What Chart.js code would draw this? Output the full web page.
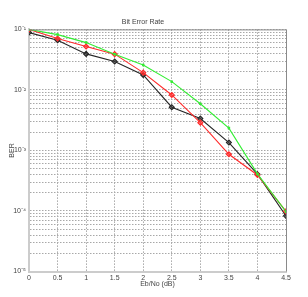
<!DOCTYPE html>
<html><head><meta charset="utf-8">
<script src="https://cdn.jsdelivr.net/npm/chart.js@4"></script>
<style>html,body{margin:0;padding:0;background:#fff}#w{width:308px;height:297px}</style>
</head><body><div id="w"><canvas id="c"></canvas></div>
<script>
const ebno = [0, 0.5, 1, 1.5, 2, 2.5, 3, 3.5, 4, 4.5];
const berGreen = [0.1, 0.082, 0.0605, 0.039, 0.0259, 0.0137, 0.0059, 0.00234, 0.00041, 0.0000975];
const berRed   = [0.1, 0.0705, 0.052, 0.039, 0.0193, 0.00826, 0.00288, 0.000865, 0.000394, 0.0000985];
const berBlack = [0.0886, 0.0663, 0.0394, 0.0294, 0.0177, 0.00518, 0.00336, 0.00135, 0.000405, 0.000083];
const xTickValues = [0, 0.5, 1, 1.5, 2, 2.5, 3, 3.5, 4, 4.5];
const xTickLabels = ['0', '0.5', '1', '1.5', '2', '2.5', '3', '3.5', '4', '4.5'];
const yDecades = [-5, -4, -3, -2, -1];
const yTickLabels = ['10\u207B\u2075', '10\u207B\u2074', '10\u207B\u00B3', '10\u207B\u00B2', '10\u207B\u00B9'];
const titleText = 'Bit Error Rate';
const xTitle = 'Eb/No (dB)';
const yTitle = 'BER';

const FONT = {family: '"Liberation Sans", Arial, sans-serif', size: 7, weight: 'normal'};
const mk = (arr) => arr.map((v, i) => ({x: ebno[i], y: v}));

const frame = {
  id: 'frame',
  afterDraw(chart) {
    const a = chart.chartArea, ctx = chart.ctx;
    ctx.save();
    ctx.strokeStyle = '#8a8a8a';
    ctx.lineWidth = 1;
    ctx.beginPath();
    ctx.moveTo(a.left, a.top + 0.5);
    ctx.lineTo(a.right + 0.5, a.top + 0.5);
    ctx.lineTo(a.right + 0.5, a.bottom);
    ctx.stroke();
    ctx.restore();
  }
};

new Chart(document.getElementById('c'), {
  type: 'line',
  data: {
    datasets: [
      {label: 'g', data: mk(berGreen), borderColor: '#33ee33', backgroundColor: '#33ee33', borderWidth: 1.1, pointRadius: 1, pointStyle: 'rect'},
      {label: 'r', data: mk(berRed), borderColor: '#ff2a2a', backgroundColor: 'rgba(255,60,60,0.6)', borderColor: '#ff2a2a', borderWidth: 1.1, pointRadius: 2.5, pointStyle: 'rectRot'},
      {label: 'k', data: mk(berBlack), borderColor: '#262626', backgroundColor: 'rgba(60,60,60,0.6)', borderWidth: 1.1, pointRadius: 2.5, pointStyle: 'rectRot'}
    ]
  },
  options: {
    responsive: true,
    maintainAspectRatio: false,
    animation: false,
    devicePixelRatio: 1,
    layout: {padding: {left: 0, right: 22, top: 0, bottom: 0}},
    plugins: {
      legend: {display: false},
      tooltip: {enabled: false},
      title: {display: true, text: titleText, color: '#444', font: FONT, padding: {top: 18, bottom: 3}}
    },
    scales: {
      x: {
        type: 'linear', min: 0, max: 4.5,
        afterBuildTicks: (s) => { s.ticks = xTickValues.map(v => ({value: v})); },
        afterFit: (s) => { s.height = 25.5; },
        ticks: {autoSkip: false, padding: 2, color: '#444', font: FONT, maxRotation: 0,
          callback: (v) => { const i = xTickValues.indexOf(v); return i >= 0 ? xTickLabels[i] : ''; }},
        grid: {color: '#a8a8a8', lineWidth: 1, drawTicks: false},
        border: {color: '#cccccc', width: 2, dash: [1.5, 1.5]},
        title: {display: true, text: xTitle, color: '#444', font: FONT, padding: {top: 0, bottom: 9}}
      },
      y: {
        type: 'logarithmic', min: 1e-5, max: 1e-1,
        afterBuildTicks: (s) => {
          const t = [];
          yDecades.forEach((e, i) => {
            if (i < yDecades.length - 1) { for (let m = 1; m <= 9; m++) t.push({value: m * Math.pow(10, e)}); }
            else t.push({value: Math.pow(10, e)});
          });
          s.ticks = t;
        },
        afterFit: (s) => { s.width = 29; },
        ticks: {autoSkip: false, padding: 3, color: '#444', font: FONT,
          callback: (v) => {
            const e = Math.log10(v);
            const i = yDecades.findIndex(d => Math.abs(d - e) < 1e-6);
            return i >= 0 ? yTickLabels[i] : '';
          }},
        grid: {color: '#a8a8a8', lineWidth: 1, drawTicks: false},
        border: {color: '#cccccc', width: 2, dash: [1.5, 1.5]},
        title: {display: true, text: yTitle, color: '#444', font: FONT, padding: {top: 7.5, bottom: 0}}
      }
    }
  },
  plugins: [frame]
});
</script></body></html>
